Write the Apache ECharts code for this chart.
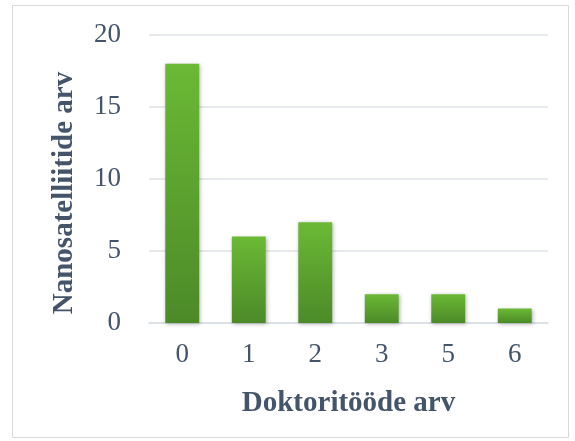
<!DOCTYPE html>
<html><head><meta charset="utf-8">
<script src="https://cdn.jsdelivr.net/npm/echarts@6/dist/echarts.min.js"></script>
<style>html,body{margin:0;padding:0;background:#fff}#c{width:575px;height:441px}</style>
</head><body><div id="c"></div>
<script>
const categories = ['0','1','2','3','5','6'];
const values = [18, 6, 7, 2, 2, 1];
const yTicks = [0, 5, 10, 15, 20];

const txt = '#44546A';
const font = '"Liberation Serif","Times New Roman",serif';
const chart = echarts.init(document.getElementById('c'), null, {renderer:'canvas'});
chart.setOption({
  animation:false,
  backgroundColor:'#fff',
  graphic:[{type:'rect',shape:{x:12.5,y:5.5,width:556,height:432},style:{fill:'none',stroke:'#D9D9D9',lineWidth:1}}],
  grid:{left:149,right:27,top:35,bottom:118},
  xAxis:{type:'category',data:categories,
    axisLine:{lineStyle:{color:'#D9DEE5',width:1.5}},axisTick:{show:false},
    axisLabel:{color:txt,fontFamily:font,fontSize:27,margin:18},
    name:'Doktoritööde arv',nameLocation:'middle',nameGap:66,
    nameTextStyle:{color:txt,fontFamily:font,fontSize:29,fontWeight:'bold'}},
  yAxis:{type:'value',min:yTicks[0],max:yTicks[yTicks.length-1],interval:5,
    axisLine:{show:false},axisTick:{show:false},
    splitLine:{lineStyle:{color:'#DEE3E9',width:1.5}},
    axisLabel:{color:txt,fontFamily:font,fontSize:27,margin:28},
    name:'Nanosatelliitide arv',nameLocation:'middle',nameGap:70,
    nameTextStyle:{color:txt,fontFamily:font,fontSize:29,fontWeight:'bold',padding:[0,28,0,0]}},
  series:[{type:'bar',data:values,barWidth:'51%',
    itemStyle:{color:new echarts.graphic.LinearGradient(0,0,0,1,[{offset:0,color:'#6BB935'},{offset:1,color:'#4C8A28'}]),
      shadowColor:'rgba(0,0,0,0.3)',shadowBlur:4,shadowOffsetX:1,shadowOffsetY:1}}]
});
</script></body></html>
